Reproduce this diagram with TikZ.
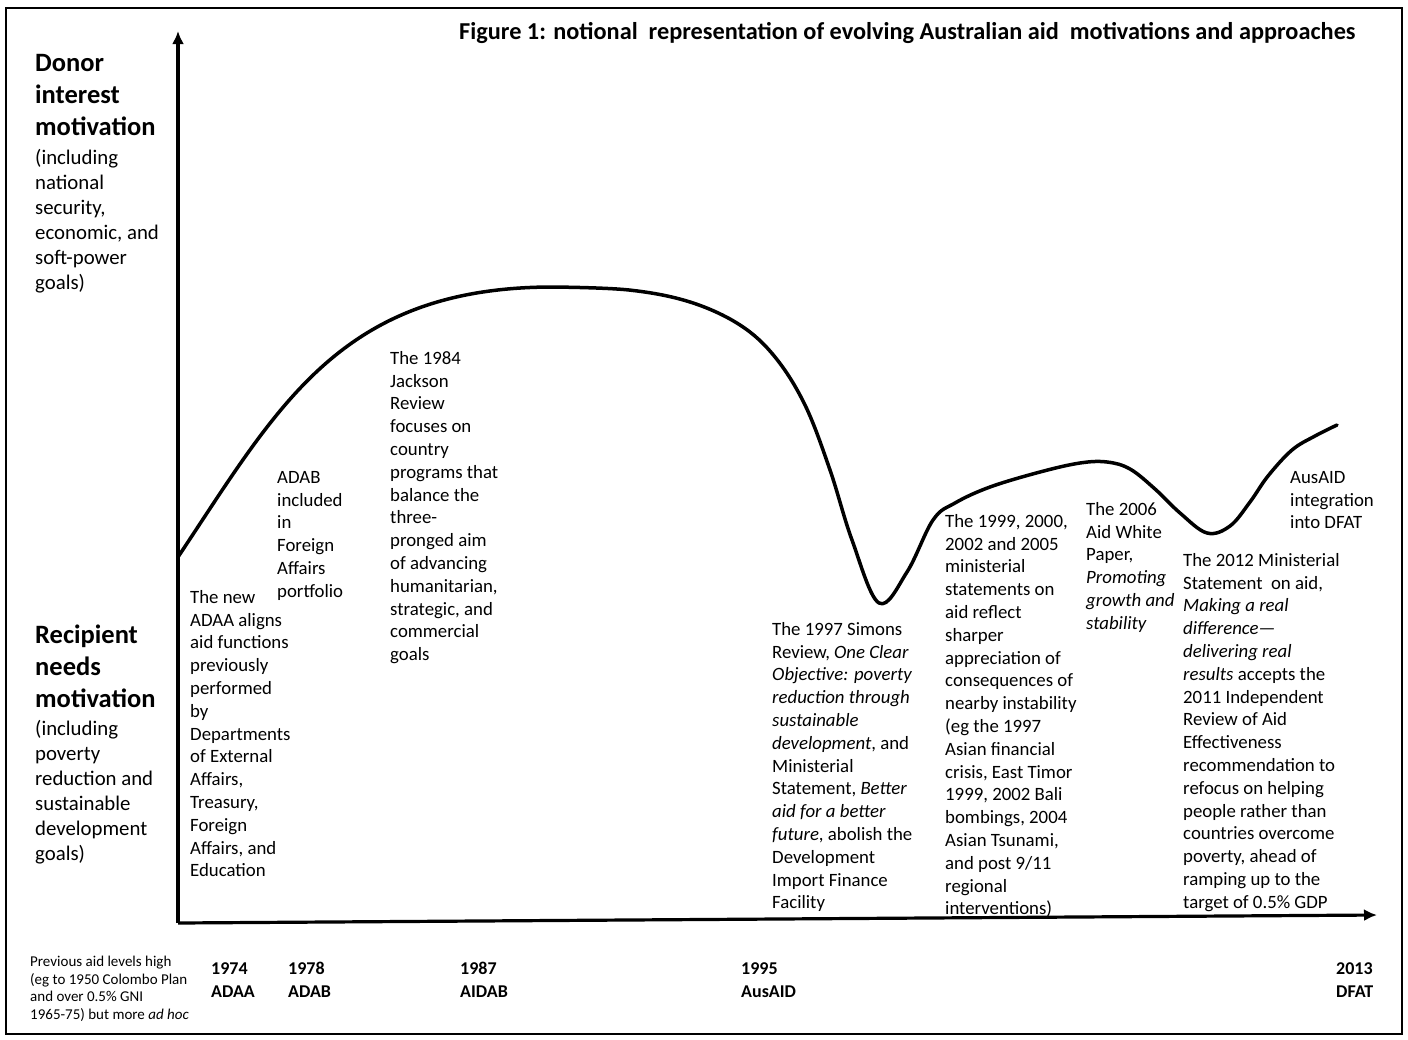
\documentclass[tikz,border=0pt]{standalone}
\usepackage{fontspec}
\setmainfont{Carlito}
\usetikzlibrary{arrows.meta}
\newcommand{\notefont}{\fontsize{18.8}{22.8}\selectfont}
\newcommand{\motivefont}{\fontsize{26.5}{32}\selectfont\bfseries}
\newcommand{\motivesubfont}{\fontsize{20.8}{25}\selectfont}
\newcommand{\agencyfont}{\fontsize{18}{23}\selectfont\bfseries}
\newcommand{\prevfont}{\fontsize{15}{17.5}\selectfont}
\newcommand{\titlefont}{\fontsize{24.3}{28}\selectfont\bfseries}

\begin{document}
\begin{tikzpicture}[x=1pt, y=-1pt,
    note/.style={anchor=north west, inner sep=0pt, align=left, font=\notefont},
    motive/.style={anchor=north west, inner sep=0pt, align=left, font=\motivefont},
    motivesub/.style={anchor=north west, inner sep=0pt, align=left, font=\motivesubfont},
    agency/.style={anchor=north west, inner sep=0pt, align=left, font=\agencyfont},
    axis/.style={line width=3.2pt, -{Latex[length=13pt, width=12pt]}},
    curve/.style={line width=3.5pt, line cap=round, line join=round}]
    \useasboundingbox (0,0) rectangle (1408,1039);

    % Frame
    \draw[line width=2pt] (6,8) rectangle (1402,1034);

    % Title
    \node[anchor=base west, inner sep=0pt, font=\titlefont] (title) at (459,39)
        {Figure 1: notional\ \ representation of evolving Australian aid\ \ motivations and approaches};

    % Axes
    \coordinate (origin) at (178,923);
    \coordinate (ytop) at (178,31);
    \coordinate (xend) at (1377,915);
    \draw[axis] (origin) -- (ytop);
    \draw[axis] (origin) -- (xend);

    % Motivation curve
    \draw[curve] (178,557) .. controls (278,407) and (340,287) .. (553,287)
        -- plot[smooth, tension=0.6] coordinates {
        (553,287) (629,290) (690,302) (740,325) (775,357) (805,405) (830,470)
        (852,540) (879,603) (907,572) (933,520) (955,503) (990,487) (1040,472)
        (1080,463) (1107,462) (1130,469) (1155,489) (1180,513) (1207,533)
        (1230,526) (1250,502) (1268,476) (1292,450) (1315,436) (1337,425)};

    % Axis labels
    \node[motive] (donor) at (35,54) {Donor\\interest\\motivation};
    \node[motivesub] (donorsub) at (35,149)
        {(including\\national\\security,\\economic, and\\soft-power\\goals)};
    \node[motive] (recipient) at (35,625) {Recipient\\needs\\motivation};
    \node[motivesub] (recipientsub) at (35,720)
        {(including\\poverty\\reduction and\\sustainable\\development\\goals)};

    % Events
    \node[note] (adaa) at (190,590) {The new\\ADAA aligns\\aid functions\\previously\\performed\\by\\Departments\\of External\\Affairs,\\Treasury,\\Foreign\\Affairs, and\\Education};
    \node[note] (adab) at (277,471) {ADAB\\included\\in\\Foreign\\Affairs\\portfolio};
    \node[note] (jackson) at (390,351) {The 1984\\Jackson\\Review\\focuses on\\country\\programs that\\balance the\\three-\\pronged aim\\of advancing\\humanitarian,\\strategic, and\\commercial\\goals};
    \node[note] (simons) at (772,622) {The 1997 Simons\\Review, \textit{One Clear}\\\textit{Objective: poverty}\\\textit{reduction through}\\\textit{sustainable}\\\textit{development}, and\\Ministerial\\Statement, \textit{Better}\\\textit{aid for a better}\\\textit{future}, abolish the\\Development\\Import Finance\\Facility};
    \node[note] (ministerial) at (945,514) {The 1999, 2000,\\2002 and 2005\\ministerial\\statements on\\aid reflect\\sharper\\appreciation of\\consequences of\\nearby instability\\(eg the 1997\\Asian financial\\crisis, East Timor\\1999, 2002 Bali\\bombings, 2004\\Asian Tsunami,\\and post 9/11\\regional\\interventions)};
    \node[note] (whitepaper) at (1086,502) {The 2006\\Aid White\\Paper,\\\textit{Promoting}\\\textit{growth and}\\\textit{stability}};
    \node[note] (statement) at (1183,553) {The 2012 Ministerial\\Statement\ \ on aid,\\\textit{Making a real}\\\textit{difference—}\\\textit{delivering real}\\\textit{results} accepts the\\2011 Independent\\Review of Aid\\Effectiveness\\recommendation to\\refocus on helping\\people rather than\\countries overcome\\poverty, ahead of\\ramping up to the\\target of 0.5\% GDP};
    \node[note] (integration) at (1290,471) {AusAID\\integration\\into DFAT};

    % Timeline
    \node[note, font=\prevfont] (previous) at (30,956) {Previous aid levels high\\(eg to 1950 Colombo Plan\\and over 0.5\% GNI\\1965-75) but more \textit{ad hoc}};
    \node[agency] (adaayr) at (211,962) {1974\\ADAA};
    \node[agency] (adabyr) at (288,962) {1978\\ADAB};
    \node[agency] (aidabyr) at (460,962) {1987\\AIDAB};
    \node[agency] (ausaidyr) at (741,962) {1995\\AusAID};
    \node[agency] (dfatyr) at (1336,962) {2013\\DFAT};
\end{tikzpicture}
\end{document}
